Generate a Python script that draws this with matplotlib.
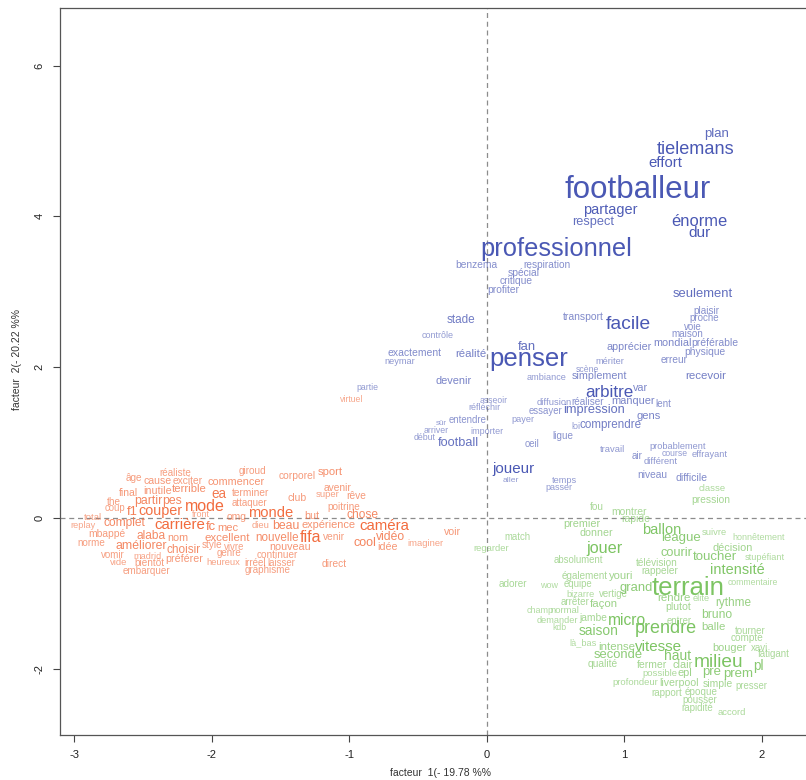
import matplotlib
matplotlib.use('Agg')
import matplotlib.pyplot as plt

plt.rcParams['font.family'] = ['Liberation Sans', 'DejaVu Sans']

# ---------------- data: words with factor scores (F1, F2) and weight ----------------
blue_words = ['plan', 'tielemans', 'effort', 'footballeur', 'partager', 'respect', 'énorme', 'dur',
              'professionnel', 'benzema', 'respiration', 'spécial', 'critique', 'profiter', 'stade',
              'transport', 'facile', 'contrôle', 'seulement', 'plaisir', 'proche', 'voie', 'maison',
              'mondial', 'préférable', 'physique', 'apprécier', 'erreur', 'mériter', 'recevoir',
              'simplement', 'scène', 'ambiance', 'arbitre', 'var', 'fan', 'penser', 'exactement',
              'réalité', 'neymar', 'devenir', 'partie', 'asseoir', 'réfléchir', 'diffusion', 'réaliser',
              'manquer', 'lent', 'essayer', 'impression', 'gens', 'entendre', 'payer', 'sûr', 'arriver',
              'début', 'importer', 'loi', 'comprendre', 'football', 'ligue', 'oeil', 'travail', 'air',
              'probablement', 'course', 'effrayant', 'différent', 'joueur', 'aller', 'temps', 'passer',
              'niveau', 'difficile']
blue_f1 = [1.67, 1.52, 1.295, 1.098, 0.895, 0.771, 1.542, 1.549,
           0.502, -0.08, 0.436, 0.269, 0.211, 0.116, -0.189,
           0.698, 1.025, -0.356, 1.571, 1.593, 1.578, 1.498, 1.455,
           1.353, 1.658, 1.585, 1.033, 1.36, 0.895, 1.593,
           0.815, 0.727, 0.436, 0.887, 1.12, 0.291, 0.305, -0.524,
           -0.116, -0.633, -0.24, -0.873, 0.051, -0.022, 0.487, 0.735,
           1.062, 1.28, 0.422, 0.778, 1.178, -0.138, 0.262, -0.335, -0.371,
           -0.451, 0.0, 0.647, 0.902, -0.211, 0.553, 0.327, 0.916, 1.091,
           1.389, 1.367, 1.622, 1.265, 0.196, 0.175, 0.56, 0.524,
           1.20, 1.484]
blue_f2 = [5.09, 4.89, 4.71, 4.35, 4.085, 3.926, 3.926, 3.78,
           3.568, 3.355, 3.355, 3.249, 3.143, 3.024, 2.626,
           2.666, 2.56, 2.414, 2.971, 2.745, 2.653, 2.533, 2.44,
           2.321, 2.321, 2.202, 2.268, 2.095, 2.082, 1.883,
           1.883, 1.976, 1.87, 1.658, 1.724, 2.268, 2.109, 2.188,
           2.175, 2.069, 1.817, 1.737, 1.552, 1.459, 1.538, 1.538,
           1.552, 1.512, 1.419, 1.432, 1.353, 1.30, 1.313, 1.247, 1.154,
           1.074, 1.141, 1.22, 1.233, 0.995, 1.088, 0.981, 0.915, 0.822,
           0.942, 0.849, 0.836, 0.743, 0.65, 0.491, 0.491, 0.398,
           0.57, 0.53]
blue_weight = [13.2, 18.2, 14.9, 31.3, 14.5, 12.8, 16.5, 15.2,
               25.5, 10.2, 10.1, 10.3, 10.2, 10.3, 11.8,
               10.4, 19.3, 9.0, 13.0, 10.0, 9.8, 9.8, 9.9,
               10.9, 10.4, 10.2, 10.8, 10.1, 9.3, 11.5,
               10.8, 8.6, 9.2, 17.0, 10.8, 13.0, 25.8, 10.4,
               11.4, 9.3, 11.0, 8.8, 8.7, 9.0, 9.4, 10.0,
               11.0, 9.9, 9.7, 12.8, 11.1, 9.6, 9.2, 8.0, 8.8,
               8.8, 9.0, 9.0, 11.6, 12.7, 9.9, 9.6, 9.4, 9.9,
               9.3, 8.7, 9.3, 9.4, 15.1, 8.5, 9.2, 9.0,
               10.2, 10.5]

orange_words = ['virtuel', 'réaliste', 'giroud', 'sport', 'corporel', 'âge', 'cause', 'exciter',
                'commencer', 'avenir', 'final', 'inutile', 'terrible', 'ea', 'terminer', 'super', 'rêve',
                'club', 'the', 'coup', 'partir', 'pes', 'attaquer', 'poitrine', 'total', 'f1', 'couper',
                'mode', 'front', 'omg', 'monde', 'but', 'chose', 'replay', 'complet', 'carrière', 'fc',
                'mec', 'dieu', 'beau', 'expérience', 'caméra', 'voir', 'mbappé', 'alaba', 'nom',
                'excellent', 'nouvelle', 'fifa', 'venir', 'cool', 'vidéo', 'idée', 'imaginer', 'norme',
                'améliorer', 'choisir', 'style', 'vivre', 'nouveau', 'vomir', 'madrid', 'préférer',
                'genre', 'continuer', 'vide', 'bientôt', 'heureux', 'irréel', 'laisser', 'direct',
                'graphisme', 'embarquer']
orange_f1 = [-0.982, -2.269, -1.702, -1.142, -1.382, -2.567, -2.393, -2.175,
             -1.825, -1.084, -2.604, -2.393, -2.167, -1.949, -1.716, -1.156, -0.953,
             -1.382, -2.713, -2.705, -2.465, -2.291, -1.724, -1.04, -2.865, -2.582, -2.371,
             -2.051, -2.08, -1.818, -1.571, -1.273, -0.902, -2.938, -2.64, -2.233, -2.007,
             -1.884, -1.644, -1.462, -1.149, -0.749, -0.247, -2.764, -2.444, -2.247,
             -1.891, -1.527, -1.28, -1.113, -0.887, -0.698, -0.727, -0.451, -2.88,
             -2.516, -2.204, -2.0, -1.84, -1.433, -2.72, -2.465, -2.204,
             -1.876, -1.527, -2.676, -2.451, -1.92, -1.687, -1.498, -1.113,
             -1.593, -2.48]
orange_f2 = [1.578, 0.597, 0.623, 0.61, 0.557, 0.53, 0.491, 0.491,
             0.477, 0.398, 0.332, 0.358, 0.385, 0.318, 0.332, 0.318, 0.292,
             0.265, 0.212, 0.133, 0.225, 0.225, 0.199, 0.146, 0.013, 0.08, 0.093,
             0.159, 0.04, 0.013, 0.066, 0.027, 0.04, -0.093, -0.066, -0.093, -0.119,
             -0.133, -0.093, -0.106, -0.093, -0.106, -0.186, -0.212, -0.239, -0.265,
             -0.265, -0.265, -0.265, -0.252, -0.332, -0.252, -0.385, -0.332, -0.332,
             -0.371, -0.424, -0.358, -0.385, -0.385, -0.491, -0.517, -0.544,
             -0.464, -0.491, -0.584, -0.597, -0.584, -0.597, -0.597, -0.61,
             -0.69, -0.703]
orange_weight = [8.6, 9.9, 10.0, 11.3, 10.2, 10.0, 10.5, 10.2,
                 10.9, 10.3, 10.4, 10.7, 11.4, 13.5, 10.1, 9.5, 10.3,
                 10.4, 10.0, 9.7, 12.3, 12.3, 9.8, 10.0, 9.5, 13.0, 14.4,
                 16.0, 9.0, 10.3, 14.7, 10.8, 12.0, 9.2, 12.0, 15.0, 13.0,
                 11.1, 9.5, 12.2, 11.0, 15.0, 10.5, 10.2, 11.9, 10.8,
                 11.5, 11.6, 16.0, 10.1, 12.5, 12.1, 10.6, 9.4, 9.9,
                 12.2, 11.8, 10.0, 9.6, 10.7, 9.8, 9.2, 10.6,
                 9.8, 10.0, 9.5, 10.0, 9.4, 9.8, 9.7, 10.2,
                 9.9, 9.9]

green_words = ['classe', 'pression', 'fou', 'montrer', 'rapide', 'premier', 'donner', 'ballon', 'suivre',
               'league', 'honnêtement', 'match', 'regarder', 'jouer', 'décision', 'courir', 'toucher',
               'stupéfiant', 'télévision', 'rappeler', 'absolument', 'intensité', 'commentaire',
               'également', 'youri', 'équipe', 'adorer', 'wow', 'grand', 'terrain', 'bizarre', 'vertige',
               'arrêter', 'façon', 'champ', 'normal', 'demander', 'jambe', 'micro', 'kdb', 'saison',
               'prendre', 'là_bas', 'intense', 'vitesse', 'seconde', 'haut', 'qualité', 'fermer', 'clair',
               'milieu', 'pl', 'possible', 'epl', 'pre', 'prem', 'profondeur', 'liverpool', 'simple',
               'presser', 'rapport', 'époque', 'pousser', 'rapidité', 'accord', 'entrer', 'bruno', 'balle',
               'tourner', 'compte', 'bouger', 'xavi', 'fatigant', 'rythme', 'rendre', 'élite', 'plutot']
green_f1 = [1.636, 1.629, 0.80, 1.033, 1.084, 0.691, 0.793, 1.273, 1.651,
            1.411, 1.978, 0.225, 0.029, 0.851, 1.789, 1.375, 1.658,
            2.022, 1.236, 1.258, 0.662, 1.818, 1.935,
            0.713, 0.975, 0.662, 0.189, 0.451, 1.084, 1.462, 0.684, 0.916,
            0.64, 0.851, 0.385, 0.567, 0.509, 0.771, 1.018, 0.524, 0.815,
            1.302, 0.698, 0.945, 1.244, 0.953, 1.389, 0.844, 1.20, 1.425,
            1.687, 1.971, 1.258, 1.44, 1.636, 1.825, 1.076, 1.396, 1.68,
            1.92, 1.309, 1.556, 1.549, 1.527, 1.782, 1.396, 1.673, 1.644,
            1.913, 1.891, 1.767, 1.985, 2.087, 1.789, 1.36, 1.556, 1.389]
green_f2 = [0.385, 0.239, 0.146, 0.08, -0.013, -0.08, -0.199, -0.159, -0.186,
            -0.265, -0.265, -0.252, -0.411, -0.398, -0.398, -0.464, -0.517,
            -0.53, -0.597, -0.703, -0.557, -0.69, -0.849,
            -0.769, -0.769, -0.875, -0.875, -0.889, -0.928, -0.928, -1.008, -1.008,
            -1.114, -1.141, -1.233, -1.233, -1.353, -1.326, -1.353, -1.446, -1.499,
            -1.472, -1.658, -1.711, -1.711, -1.817, -1.83, -1.936, -1.95, -1.95,
            -1.91, -1.963, -2.056, -2.056, -2.042, -2.069, -2.188, -2.188, -2.202,
            -2.228, -2.321, -2.308, -2.414, -2.52, -2.586, -1.366, -1.286, -1.446,
            -1.499, -1.592, -1.724, -1.724, -1.804, -1.127, -1.061, -1.074, -1.18]
green_weight = [9.5, 10.3, 10.0, 10.2, 10.4, 10.9, 10.6, 14.6, 9.4,
                13.3, 9.0, 9.6, 9.5, 16.2, 10.9, 12.8, 13.2,
                9.2, 10.0, 10.1, 9.7, 14.5, 8.7,
                9.9, 11.1, 9.7, 10.0, 9.0, 13.0, 25.7, 9.2, 9.7,
                9.9, 11.4, 9.0, 9.5, 9.3, 10.3, 15.6, 8.7, 13.8,
                18.0, 9.2, 11.5, 15.1, 13.0, 13.9, 10.2, 10.4, 10.9,
                19.2, 13.5, 9.5, 11.0, 13.1, 13.2, 9.5, 10.5, 10.4,
                9.6, 9.8, 9.9, 9.8, 9.8, 9.5, 9.6, 12.1, 11.5,
                9.8, 10.0, 11.0, 9.6, 9.8, 11.8, 11.5, 9.2, 10.5]

group_colors = ['#4a58b4', '#f26b3d', '#7cc462']

x_ticks = [-3, -2, -1, 0, 1, 2]
y_ticks = [-2, 0, 2, 4, 6]
x_label = 'facteur  1(- 19.78 %%'
y_label = 'facteur  2(- 20.22 %%'

# ---------------- figure ----------------
W, H = 806, 780
fig = plt.figure(figsize=(W / 100, H / 100), dpi=100)
ax = fig.add_axes([60 / W, 1 - 735 / H, (W - 60) / W, (735 - 8) / H])
ax.set_xlim(-3.105, 2.32)
ax.set_ylim(-2.878, 6.764)

ax.axhline(0, color='#8c8c8c', lw=0.9, ls=(0, (4, 3)), zorder=1)
ax.axvline(0, color='#8c8c8c', lw=0.9, ls=(0, (4, 3)), zorder=1)

groups = [(blue_words, blue_f1, blue_f2, blue_weight, group_colors[0]),
          (orange_words, orange_f1, orange_f2, orange_weight, group_colors[1]),
          (green_words, green_f1, green_f2, green_weight, group_colors[2])]

for words, f1, f2, wts, col in groups:
    for w, x, y, s in zip(words, f1, f2, wts):
        a = min(1.0, max(0.6, 0.6 + (s - 9.0) / 6.0 * 0.4))
        ax.text(x, y, w, fontsize=s * 0.72, color=col, alpha=a,
                ha='center', va='center', zorder=3)

ax.set_xticks(x_ticks)
ax.set_yticks(y_ticks)
ax.set_xticklabels([str(t) for t in x_ticks])
ax.set_yticklabels([str(t) for t in y_ticks])
ax.tick_params(axis='both', labelsize=8, length=5, width=0.8, color='#444444',
               labelcolor='#222222')
ax.tick_params(axis='x', pad=6)
ax.tick_params(axis='y', labelrotation=90, pad=6)
for lab in ax.get_yticklabels():
    lab.set_va('center')

for side in ['left', 'bottom', 'top']:
    ax.spines[side].set_color('#555555')
    ax.spines[side].set_linewidth(0.9)
ax.spines['right'].set_visible(False)

fig.text(440 / W, 1 - 773 / H, x_label, ha='center', va='center', fontsize=7.5, color='#333333')
fig.text(17 / W, 1 - 360 / H, y_label, ha='center', va='center', rotation=90,
         fontsize=7.5, color='#333333')

fig.savefig('out.png', dpi=100)
